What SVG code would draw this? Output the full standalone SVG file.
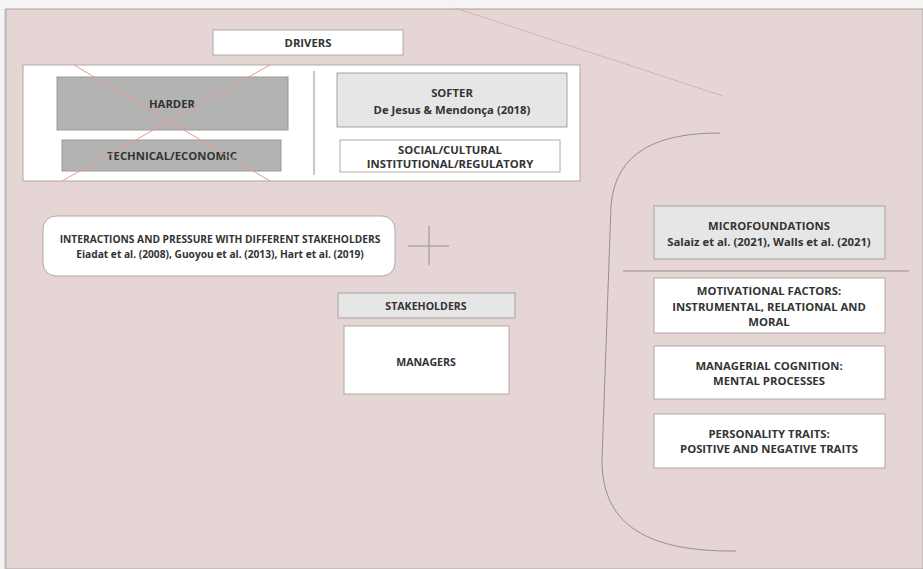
<svg xmlns="http://www.w3.org/2000/svg" width="923" height="569" viewBox="0 0 923 569">
<style>
text{font-family:"Open Sans","Liberation Sans",sans-serif;font-weight:bold;font-size:11.3px;fill:#333;text-anchor:middle}
.s{font-size:10.2px}
.m{font-size:10.6px}
.w{fill:#fff;stroke:#b0a8a8;stroke-width:1}
.lg{fill:#e6e6e6;stroke:#a8a0a0;stroke-width:1}
.dg{fill:#b3b3b3;stroke:#999;stroke-width:1}
.ln{stroke:#9a8e8e;stroke-width:1;fill:none}
</style>
<rect x="0" y="0" width="923" height="569" fill="#f4f4f4"/>
<rect x="6" y="9" width="917" height="560" fill="#e5d5d5" stroke="#a9a0a0" stroke-width="1"/>
<line x1="5" y1="9" x2="5" y2="569" stroke="#b5b5b5" stroke-width="1"/>
<line x1="455" y1="8" x2="723" y2="96" stroke="#cbb5b5" stroke-width="1"/>

<g id="drivers"><rect class="w" x="213" y="30" width="190" height="25"/><text x="308" y="47">DRIVERS</text></g>
<g id="drivers-panel"><rect class="w" x="23" y="65" width="557" height="116"/></g>
<g id="harder"><rect class="dg" x="57" y="77" width="231" height="53"/><text x="172" y="108">HARDER</text></g>
<g id="technical"><rect class="dg" x="62" y="140" width="219" height="31"/><text x="172" y="160">TECHNICAL/ECONOMIC</text></g>
<g id="softer"><rect class="lg" x="337" y="73" width="230" height="54"/><text x="452" y="97">SOFTER</text><text x="452" y="114">De Jesus &amp; Mendonça (2018)</text></g>
<g id="social"><rect class="w" x="340" y="140" width="220" height="32"/><text x="450" y="154">SOCIAL/CULTURAL</text><text x="450" y="168">INSTITUTIONAL/REGULATORY</text></g>
<g id="interactions"><rect class="w" x="43" y="216" width="352" height="60" rx="13"/><text class="s" x="220" y="243">INTERACTIONS AND PRESSURE WITH DIFFERENT STAKEHOLDERS</text><text class="s" x="220" y="258">Eiadat et al. (2008), Guoyou et al. (2013), Hart et al. (2019)</text></g>
<g id="stakeholders"><rect class="lg" x="338" y="293" width="177" height="25"/><text class="m" x="426" y="310">STAKEHOLDERS</text></g>
<g id="managers"><rect class="w" x="344" y="326" width="165" height="68"/><text class="m" x="426" y="366">MANAGERS</text></g>
<g id="microfoundations"><rect class="lg" x="654" y="206" width="231" height="53"/><text x="769" y="230">MICROFOUNDATIONS</text><text x="769" y="246">Salaiz et al. (2021), Walls et al. (2021)</text></g>
<g id="motivational"><rect class="w" x="654" y="278" width="231" height="55"/><text x="769" y="295">MOTIVATIONAL FACTORS:</text><text x="769" y="311">INSTRUMENTAL, RELATIONAL AND</text><text x="769" y="326">MORAL</text></g>
<g id="cognition"><rect class="w" x="654" y="346" width="231" height="53"/><text x="769" y="370">MANAGERIAL COGNITION:</text><text x="769" y="385">MENTAL PROCESSES</text></g>
<g id="personality"><rect class="w" x="654" y="414" width="231" height="54"/><text x="769" y="438">PERSONALITY TRAITS:</text><text x="769" y="453">POSITIVE AND NEGATIVE TRAITS</text></g>

<g id="connectors">
<line x1="74" y1="65" x2="270" y2="181" stroke="#e89a8a" stroke-width="1"/>
<line x1="270" y1="65" x2="62" y2="181" stroke="#e89a8a" stroke-width="1"/>
<line class="ln" x1="314" y1="71" x2="314" y2="175" stroke="#bbb"/>
<line class="ln" x1="429" y1="226" x2="429" y2="265" stroke="#666"/>
<line class="ln" x1="408" y1="246" x2="449" y2="246" stroke="#666"/>
<line class="ln" x1="623" y1="271" x2="909" y2="271"/>
<path class="ln" d="M720 133 C660 133 616 150 611 205 L602 460 C602 520 640 552 736 551"/>
</g>
</svg>
